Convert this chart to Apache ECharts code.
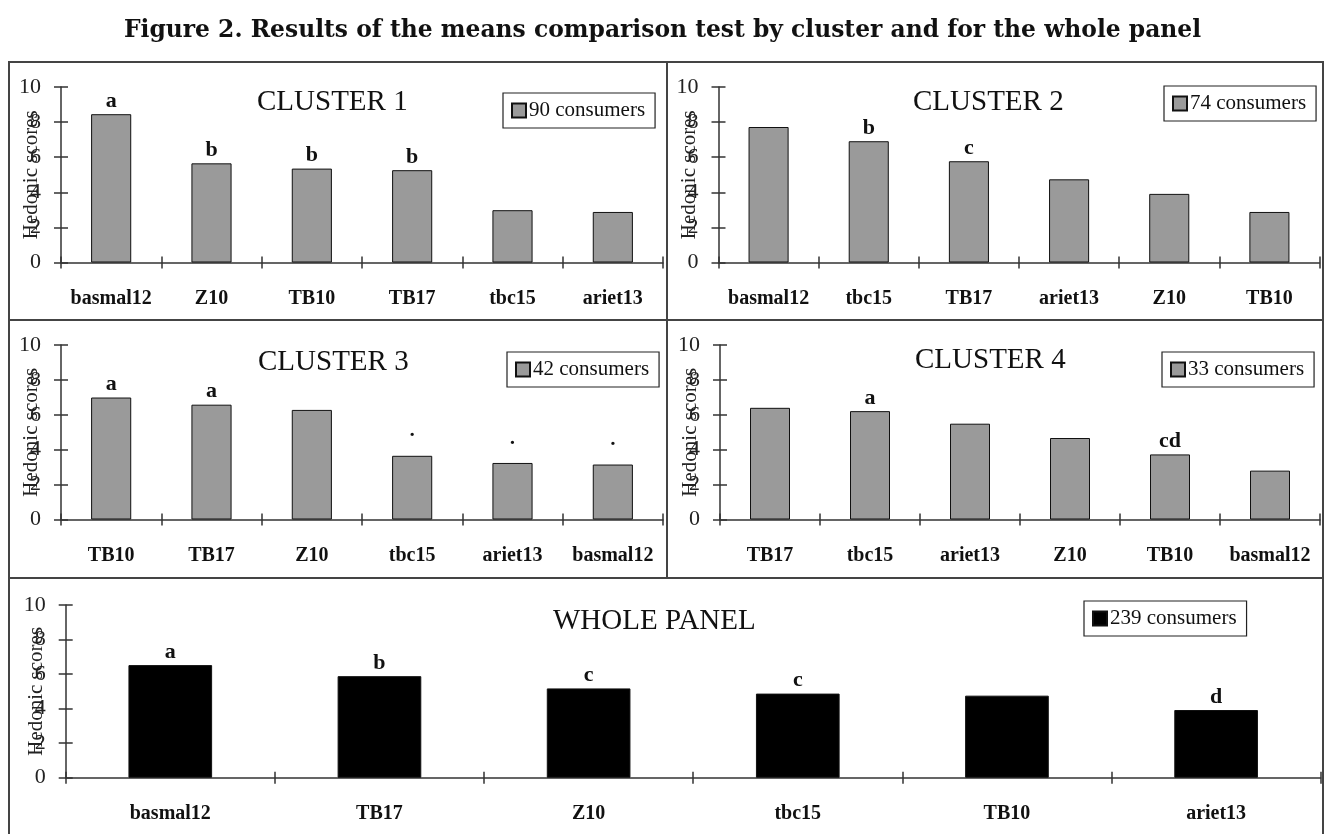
<!DOCTYPE html>
<html>
<head>
<meta charset="utf-8">
<script src="https://cdn.jsdelivr.net/npm/echarts@6/dist/echarts.min.js"></script>
<style>
html,body{margin:0;padding:0;background:#fff;}
#chart{width:1325px;height:834px;}
</style>
</head>
<body>
<div id="chart"></div>
<script>
// ---- data ----
const yTickMin = 0, yTickMax = 10, yTickStep = 2;

const c1Cats = ['basmal12', 'Z10', 'TB10', 'TB17', 'tbc15', 'ariet13'];
const c1Vals = [8.45, 5.65, 5.35, 5.26, 2.98, 2.88];
const c1Letters = ['a', 'b', 'b', 'b', '', ''];

const c2Cats = ['basmal12', 'tbc15', 'TB17', 'ariet13', 'Z10', 'TB10'];
const c2Vals = [7.72, 6.91, 5.77, 4.74, 3.91, 2.88];
const c2Letters = ['', 'b', 'c', '', '', ''];

const c3Cats = ['TB10', 'TB17', 'Z10', 'tbc15', 'ariet13', 'basmal12'];
const c3Vals = [6.99, 6.58, 6.28, 3.65, 3.24, 3.15];
const c3Letters = ['a', 'a', '', '˙', '˙', '˙'];

const c4Cats = ['TB17', 'tbc15', 'ariet13', 'Z10', 'TB10', 'basmal12'];
const c4Vals = [6.40, 6.21, 5.49, 4.67, 3.73, 2.80];
const c4Letters = ['', 'a', '', '', 'cd', ''];

const wpCats = ['basmal12', 'TB17', 'Z10', 'tbc15', 'TB10', 'ariet13'];
const wpVals = [6.52, 5.88, 5.17, 4.87, 4.75, 3.92];
const wpLetters = ['a', 'b', 'c', 'c', '', 'd'];

const panelTitles = ['CLUSTER 1', 'CLUSTER 2', 'CLUSTER 3', 'CLUSTER 4', 'WHOLE PANEL'];
const panelSeriesNames = ['90 consumers', '74 consumers', '42 consumers', '33 consumers', '239 consumers'];
const figTitle = 'Figure 2. Results of the means comparison test by cluster and for the whole panel';
const yName = 'Hedonic scores';

// ---- layout (positions / styles only) ----
const SERIF = '"Liberation Serif", "Times New Roman", serif';
const grids = [
  {left: 61, top: 87, width: 602, height: 175.5},
  {left: 718.5, top: 87, width: 601, height: 175.5},
  {left: 61, top: 345, width: 602, height: 174.5},
  {left: 720, top: 345, width: 600, height: 174.5},
  {left: 65.7, top: 605, width: 1255, height: 172.7}
];
const titlePos = [
  {left: 257, top: 88},
  {left: 913, top: 88},
  {left: 258, top: 348},
  {left: 915, top: 346},
  {left: 553, top: 607}
];
const legendPos = [
  {left: 503, top: 93},
  {left: 1164, top: 86},
  {left: 507, top: 352},
  {left: 1162, top: 352},
  {left: 1084, top: 601}
];
const barColors = ['#9a9a9a', '#9a9a9a', '#9a9a9a', '#9a9a9a', '#000000'];

const cats = [c1Cats, c2Cats, c3Cats, c4Cats, wpCats];
const vals = [c1Vals, c2Vals, c3Vals, c4Vals, wpVals];
const letters = [c1Letters, c2Letters, c3Letters, c4Letters, wpLetters];

const axisColor = '#333';
const xAxes = [], yAxes = [], series = [], titles = [], legends = [];

titles.push({
  text: figTitle, left: 'center', top: 19, padding: 0,
  textStyle: {fontFamily: '"DejaVu Serif", serif', fontWeight: 'bold', fontSize: 23.4, color: '#111'}
});

for (let i = 0; i < 5; i++) {
  xAxes.push({
    type: 'category', gridIndex: i, data: cats[i], position: 'bottom',
    axisLine: {lineStyle: {color: axisColor, width: 1.5}},
    axisTick: {show: true, interval: 0, length: 6, lineStyle: {color: axisColor, width: 1.5}},
    axisLabel: {interval: 0, margin: 26, fontFamily: SERIF, fontWeight: 'bold', fontSize: 20, color: '#111'},
    splitLine: {show: false}
  });
  xAxes.push({
    type: 'category', gridIndex: i, data: cats[i], position: 'bottom',
    axisLine: {show: false},
    axisTick: {show: true, inside: true, interval: 0, length: 6, lineStyle: {color: axisColor, width: 1.5}},
    axisLabel: {show: false}, splitLine: {show: false}
  });
  yAxes.push({
    type: 'value', gridIndex: i, position: 'left', min: yTickMin, max: yTickMax, interval: yTickStep,
    name: yName, nameLocation: 'middle', nameGap: 19, nameRotate: 90, nameMoveOverlap: false,
    nameTextStyle: {fontFamily: SERIF, fontSize: 21, color: '#222'},
    axisLine: {show: true, lineStyle: {color: axisColor, width: 1.5}},
    axisTick: {show: true, length: 7, lineStyle: {color: axisColor, width: 1.5}},
    axisLabel: {margin: 20, fontFamily: SERIF, fontSize: 22, color: '#222'},
    splitLine: {show: false}
  });
  yAxes.push({
    type: 'value', gridIndex: i, position: 'left', offset: 0, min: yTickMin, max: yTickMax, interval: yTickStep,
    axisLine: {show: false},
    axisTick: {show: true, inside: true, length: 7, lineStyle: {color: axisColor, width: 1.5}},
    axisLabel: {show: false}, splitLine: {show: false}
  });
  const lt = letters[i];
  series.push({
    name: panelSeriesNames[i], type: 'bar',
    xAxisIndex: 2 * i, yAxisIndex: 2 * i,
    data: vals[i], barWidth: '40%',
    itemStyle: {color: barColors[i], borderColor: '#111', borderWidth: 1},
    label: {
      show: true, position: 'top', distance: 2,
      formatter: p => lt[p.dataIndex],
      fontFamily: SERIF, fontWeight: 'bold', fontSize: 22, color: '#111'
    },
    emphasis: {disabled: true},
    silent: true, animation: false
  });
  titles.push({
    text: panelTitles[i], left: titlePos[i].left, top: titlePos[i].top, padding: 0,
    textStyle: {fontFamily: SERIF, fontWeight: 'normal', fontSize: 29, color: '#111'}
  });
  legends.push({
    data: [panelSeriesNames[i]], left: legendPos[i].left, top: legendPos[i].top,
    orient: 'horizontal', icon: 'rect', itemWidth: 14, itemHeight: 14, itemGap: 4,
    borderColor: '#222', borderWidth: 1.2, padding: [7, 10, 7, 8],
    selectedMode: false,
    textStyle: {fontFamily: SERIF, fontSize: 21, color: '#111', padding: [0, 0, 0, -2]}
  });
}

const graphic = [
  {type: 'rect', shape: {x: 9, y: 62, width: 1314, height: 780}, style: {stroke: '#444', lineWidth: 2, fill: 'none'}, silent: true},
  {type: 'line', shape: {x1: 667, y1: 62, x2: 667, y2: 578}, style: {stroke: '#444', lineWidth: 2}, silent: true},
  {type: 'line', shape: {x1: 9, y1: 320, x2: 1323, y2: 320}, style: {stroke: '#444', lineWidth: 2}, silent: true},
  {type: 'line', shape: {x1: 9, y1: 578, x2: 1323, y2: 578}, style: {stroke: '#444', lineWidth: 2}, silent: true}
];

const chart = echarts.init(document.getElementById('chart'), null, {renderer: 'canvas'});
chart.setOption({
  backgroundColor: '#fff',
  animation: false,
  title: titles,
  legend: legends,
  grid: grids.map(g => Object.assign({containLabel: false}, g)),
  xAxis: xAxes,
  yAxis: yAxes,
  series: series,
  graphic: graphic
});
</script>
</body>
</html>
